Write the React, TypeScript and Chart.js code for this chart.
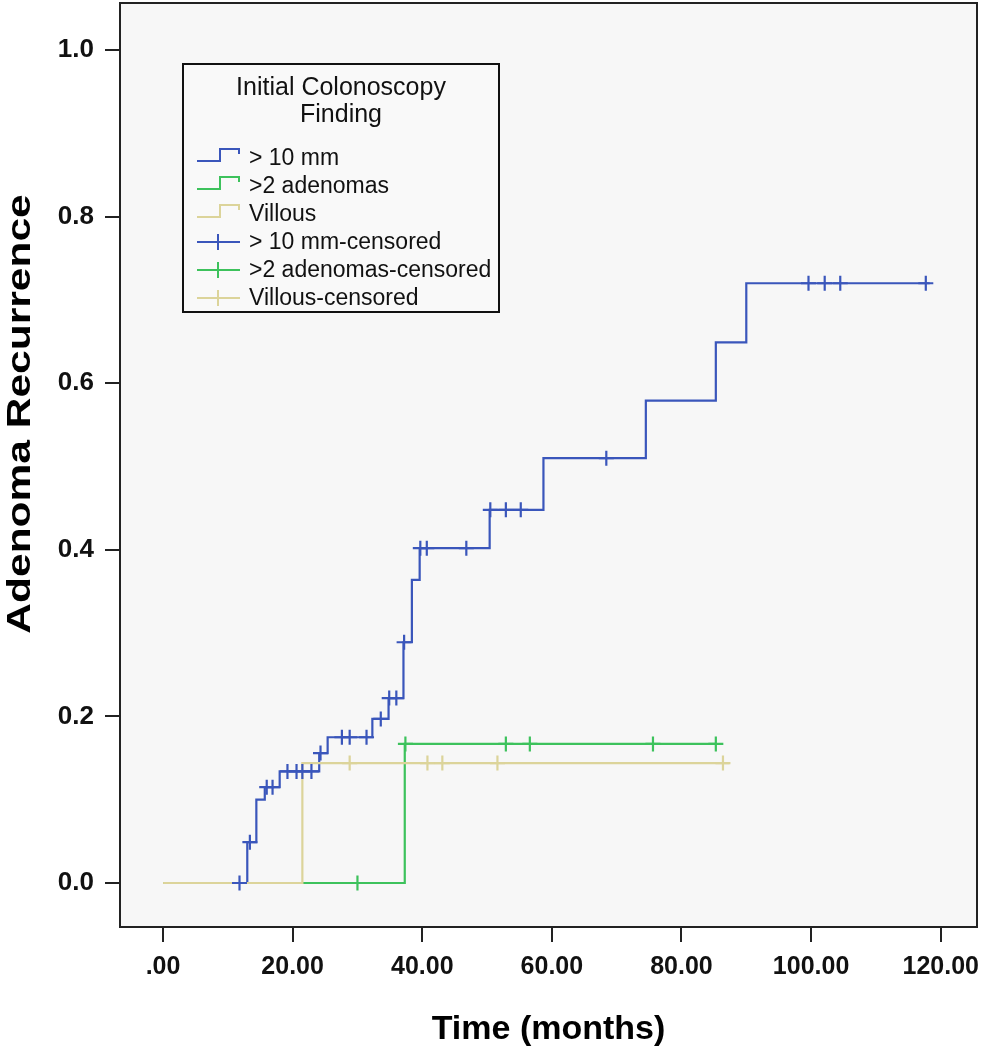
import { useEffect, useRef } from "react";
import { Chart, registerables } from "chart.js";

Chart.register(...registerables);

// ---- axis ticks ----
const xTickValues = [0, 20, 40, 60, 80, 100, 120];
const xTickLabels = [".00", "20.00", "40.00", "60.00", "80.00", "100.00", "120.00"];
const yTickValues = [0, 0.2, 0.4, 0.6, 0.8, 1.0];
const yTickLabels = ["0.0", "0.2", "0.4", "0.6", "0.8", "1.0"];

// ---- legend texts ----
const legendTitle = ["Initial Colonoscopy", "Finding"];
const seriesNames = ["> 10 mm", ">2 adenomas", "Villous"];
const censoredNames = ["> 10 mm-censored", ">2 adenomas-censored", "Villous-censored"];
const seriesColors = ["#3a56bb", "#3dc25c", "#dcd49a"];

// ---- > 10 mm ----
const bigTimes = [0, 13.0, 14.4, 15.7, 18.0, 24.1, 25.4, 32.3, 34.8, 37.1, 38.4, 39.6, 50.4, 58.7, 74.5, 85.3, 90.0, 118.3];
const bigValues = [0, 0.049, 0.1, 0.115, 0.134, 0.156, 0.175, 0.197, 0.222, 0.289, 0.364, 0.402, 0.448, 0.51, 0.579, 0.649, 0.72, 0.72];
const bigCensorTimes = [11.8, 13.4, 16.0, 16.9, 19.2, 20.6, 21.5, 22.9, 24.3, 27.6, 28.8, 31.4, 33.6, 34.9, 36.0, 37.2, 39.7, 40.7, 46.8, 50.5, 52.9, 55.2, 68.4, 99.6, 102.1, 104.5, 117.7];
const bigCensorValues = [0, 0.049, 0.115, 0.115, 0.134, 0.134, 0.134, 0.134, 0.156, 0.175, 0.175, 0.175, 0.197, 0.222, 0.222, 0.289, 0.402, 0.402, 0.402, 0.448, 0.448, 0.448, 0.51, 0.72, 0.72, 0.72, 0.72];

// ---- >2 adenomas ----
const adenTimes = [0, 37.3, 85.3];
const adenValues = [0, 0.167, 0.167];
const adenCensorTimes = [30.0, 37.4, 52.9, 56.6, 75.6, 85.3];
const adenCensorValues = [0, 0.167, 0.167, 0.167, 0.167, 0.167];

// ---- Villous ----
const villTimes = [0, 21.5, 87.4];
const villValues = [0, 0.144, 0.144];
const villCensorTimes = [28.8, 40.8, 43.1, 51.6, 86.4];
const villCensorValues = [0.144, 0.144, 0.144, 0.144, 0.144];

const yTitle = "Adenoma Recurrence";
const xTitle = "Time (months)";

const pts = (xs: number[], ys: number[]) => xs.map((x, i) => ({ x, y: ys[i] }));

const decorPlugin = {
  id: "decor",
  beforeDraw(chart: any) {
    const { ctx, chartArea: a } = chart;
    ctx.save();
    ctx.fillStyle = "#ffffff";
    ctx.fillRect(0, 0, chart.width, chart.height);
    ctx.fillStyle = "#f7f7f7";
    ctx.fillRect(a.left, a.top, a.right - a.left, a.bottom - a.top);
    ctx.restore();
  },
  afterDraw(chart: any) {
    const { ctx, chartArea: a } = chart;
    ctx.save();
    // frame
    ctx.strokeStyle = "#222";
    ctx.lineWidth = 2;
    ctx.strokeRect(a.left, a.top, a.right - a.left, a.bottom - a.top);

    // y axis title (stretched along its length)
    ctx.save();
    ctx.translate(21, 414);
    ctx.rotate(-Math.PI / 2);
    ctx.scale(1.25, 1);
    ctx.font = "bold 34px 'Liberation Sans', Arial, sans-serif";
    ctx.fillStyle = "#000";
    ctx.textAlign = "center";
    ctx.textBaseline = "middle";
    ctx.fillText(yTitle, 0, 0);
    ctx.restore();

    // legend box
    const L = 183, T = 64, R = 499, B = 312;
    ctx.fillStyle = "#f9f9f9";
    ctx.fillRect(L, T, R - L, B - T);
    ctx.strokeStyle = "#111";
    ctx.lineWidth = 2;
    ctx.strokeRect(L, T, R - L, B - T);
    ctx.fillStyle = "#111";
    ctx.textBaseline = "middle";
    ctx.textAlign = "center";
    ctx.font = "25px 'Liberation Sans', Arial, sans-serif";
    ctx.fillText(legendTitle[0], 341, 88);
    ctx.fillText(legendTitle[1], 341, 115);
    ctx.textAlign = "left";
    ctx.font = "23px 'Liberation Sans', Arial, sans-serif";
    const rows = [158, 186, 214, 242, 270, 298];
    ctx.lineWidth = 2;
    seriesNames.forEach((name, i) => {
      const cy = rows[i];
      ctx.strokeStyle = seriesColors[i];
      ctx.beginPath();
      ctx.moveTo(197, cy + 3);
      ctx.lineTo(220, cy + 3);
      ctx.lineTo(220, cy - 9);
      ctx.lineTo(239, cy - 9);
      ctx.lineTo(239, cy - 4);
      ctx.stroke();
      ctx.fillText(name, 249, cy + 1);
    });
    censoredNames.forEach((name, i) => {
      const cy = rows[i + 3];
      ctx.strokeStyle = seriesColors[i];
      ctx.beginPath();
      ctx.moveTo(197, cy);
      ctx.lineTo(240, cy);
      ctx.moveTo(218, cy - 8);
      ctx.lineTo(218, cy + 8);
      ctx.stroke();
      ctx.fillText(name, 249, cy + 1);
    });
    ctx.restore();
  },
};

const zeroPad = (s: any) => {
  s.paddingTop = 0;
  s.paddingBottom = 0;
  s.paddingLeft = 0;
  s.paddingRight = 0;
};

export default function App() {
  const ref = useRef<HTMLCanvasElement | null>(null);

  useEffect(() => {
    if (!ref.current) return;
    const lineDs = (label: string, data: any, color: string, order: number) => ({
      label,
      data,
      borderColor: color,
      backgroundColor: color,
      borderWidth: 2.2,
      stepped: true,
      pointRadius: 0,
      fill: false,
      order,
    });
    const censorDs = (label: string, data: any, color: string) => ({
      label,
      data,
      showLine: false,
      borderColor: color,
      backgroundColor: color,
      pointStyle: "cross",
      pointRadius: 7.5,
      pointBorderWidth: 2.2,
      order: 0,
    });
    const chart = new Chart(ref.current, {
      type: "line",
      data: {
        datasets: [
          censorDs(censoredNames[0], pts(bigCensorTimes, bigCensorValues), seriesColors[0]),
          censorDs(censoredNames[1], pts(adenCensorTimes, adenCensorValues), seriesColors[1]),
          censorDs(censoredNames[2], pts(villCensorTimes, villCensorValues), seriesColors[2]),
          lineDs(seriesNames[2], pts(villTimes, villValues), seriesColors[2], 1),
          lineDs(seriesNames[1], pts(adenTimes, adenValues), seriesColors[1], 2),
          lineDs(seriesNames[0], pts(bigTimes, bigValues), seriesColors[0], 3),
        ] as any,
      },
      options: {
        responsive: false,
        animation: false,
        events: [],
        layout: { autoPadding: false, padding: { top: 3, right: 12, left: 0, bottom: 0 } },
        plugins: { legend: { display: false }, tooltip: { enabled: false } },
        scales: {
          x: {
            type: "linear",
            min: -6.64,
            max: 125.6,
            afterBuildTicks: (s: any) => {
              s.ticks = xTickValues.map((v) => ({ value: v }));
            },
            afterFit: (s: any) => {
              s.height = 123;
              zeroPad(s);
            },
            ticks: {
              autoSkip: false,
              maxRotation: 0,
              padding: 10,
              color: "#111",
              font: { family: "'Liberation Sans', Arial", size: 25, weight: "bold" },
              callback: (v: any) => xTickLabels[xTickValues.indexOf(Number(v))],
            },
            grid: { drawOnChartArea: false, drawTicks: true, tickLength: 15, color: "#222", lineWidth: 2 },
            border: { display: false },
            title: {
              display: true,
              text: xTitle,
              color: "#000",
              font: { family: "'Liberation Sans', Arial", size: 34, weight: "bold" },
              padding: { top: 0, bottom: 0 },
            },
          },
          y: {
            type: "linear",
            min: -0.0528,
            max: 1.0564,
            afterBuildTicks: (s: any) => {
              s.ticks = yTickValues.map((v) => ({ value: v }));
            },
            afterFit: (s: any) => {
              s.width = 120;
              zeroPad(s);
            },
            ticks: {
              autoSkip: false,
              padding: 11,
              color: "#111",
              font: { family: "'Liberation Sans', Arial", size: 26, weight: "bold" },
              callback: (v: any) => yTickLabels[yTickValues.findIndex((t) => Math.abs(t - Number(v)) < 1e-6)],
            },
            grid: { drawOnChartArea: false, drawTicks: true, tickLength: 15, color: "#222", lineWidth: 2 },
            border: { display: false },
          },
        },
      } as any,
      plugins: [decorPlugin],
    });
    return () => chart.destroy();
  }, []);

  return (
    <div style={{ position: "absolute", left: 0, top: 0, width: 989, height: 1050, background: "#fff" }}>
      <canvas ref={ref} width={989} height={1050} style={{ display: "block" }} />
    </div>
  );
}
